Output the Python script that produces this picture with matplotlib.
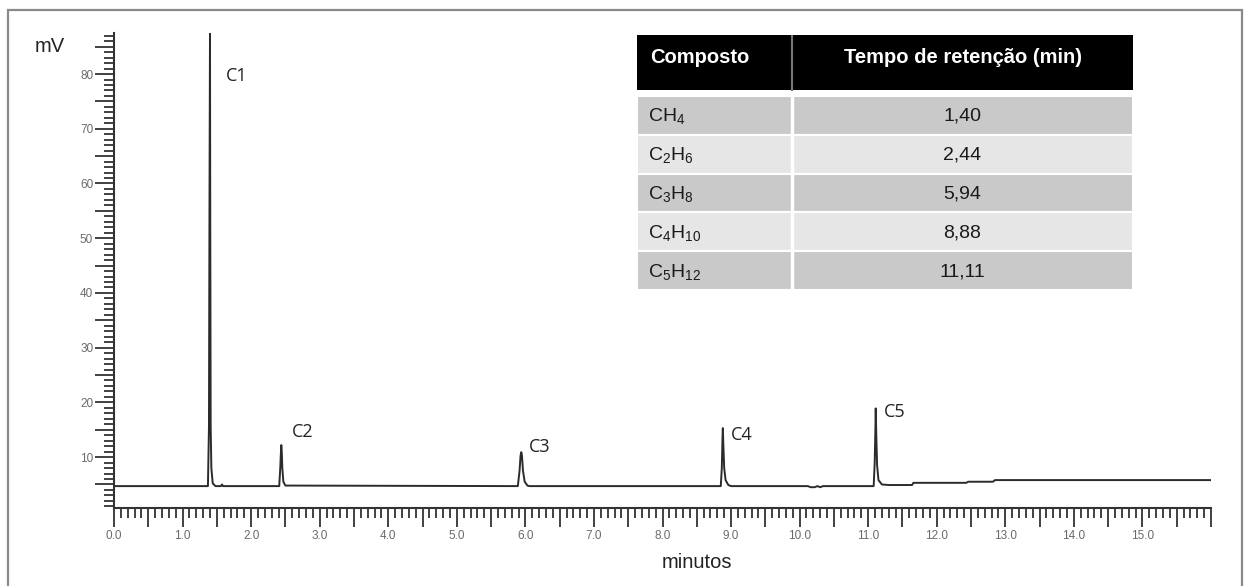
import matplotlib
matplotlib.use("Agg")
import matplotlib.pyplot as plt
from matplotlib.patches import Rectangle
from matplotlib.ticker import MultipleLocator, FuncFormatter

plt.rcParams['font.family'] = ['Liberation Sans', 'DejaVu Sans']
plt.rcParams['mathtext.fontset'] = 'custom'
plt.rcParams['mathtext.rm'] = 'Liberation Sans'
plt.rcParams['mathtext.default'] = 'regular'

# chromatogram trace (time in min, signal in mV)
trace_t = [0.0, 1.37, 1.385, 1.392, 1.40, 1.404, 1.41, 1.42, 1.44, 1.48,
           1.56, 1.575, 1.59,
           2.41, 2.425, 2.435, 2.44, 2.447, 2.455, 2.47, 2.50,
           5.89, 5.915, 5.93, 5.94, 5.95, 5.965, 5.99, 6.03, 6.06,
           8.85, 8.865, 8.875, 8.88, 8.888, 8.90, 8.92, 8.96, 9.00,
           10.12, 10.16, 10.22, 10.26, 10.30, 10.34,
           11.08, 11.095, 11.105, 11.11, 11.118, 11.13, 11.15, 11.20, 11.30,
           11.64, 11.66, 12.43, 12.46, 12.82, 12.85, 16.0]
trace_mv = [4.7, 4.7, 15.5, 53.0, 87.5, 53.0, 15.5, 8.0, 5.2, 4.7,
            4.7, 5.0, 4.7,
            4.7, 8.0, 11.0, 12.2, 11.0, 8.0, 5.5, 4.8,
            4.7, 7.5, 10.3, 10.9, 10.3, 7.5, 5.5, 4.8, 4.7,
            4.7, 8.0, 13.5, 15.3, 12.0, 8.0, 5.8, 4.9, 4.7,
            4.7, 4.5, 4.5, 4.7, 4.5, 4.7,
            4.7, 9.0, 15.0, 18.9, 14.0, 8.5, 5.8, 5.0, 4.9,
            4.9, 5.3, 5.3, 5.5, 5.5, 5.8, 5.8]

peak_names = ['C1', 'C2', 'C3', 'C4', 'C5']
peak_mv = [87.5, 12.2, 10.9, 15.3, 18.9]

# retention time table
compostos = ['CH$_4$', 'C$_2$H$_6$', 'C$_3$H$_8$', 'C$_4$H$_{10}$', 'C$_5$H$_{12}$']
tempos = [1.40, 2.44, 5.94, 8.88, 11.11]

W, H = 1248, 586
fig = plt.figure(figsize=(W / 100, H / 100), dpi=100)

# grey frame around the whole figure
fig.patches.append(Rectangle((8 / W, -0.05), (1242 - 8) / W, 1.05 - 10 / H,
                             transform=fig.transFigure, fill=False,
                             edgecolor='#8a8a8a', linewidth=1.6))

ax = fig.add_axes([114 / W, 1 - 508 / H, (1211 - 114) / W, (508 - 33) / H])
ax.plot(trace_t, trace_mv, color='#2b2b2b', linewidth=1.4)

label_offsets = [(16, -43), (11, 13), (8, 5), (8, -7), (8, -4)]
for name, t, h, off in zip(peak_names, tempos, peak_mv, label_offsets):
    ax.annotate(name, xy=(t, h), xytext=off, textcoords='offset pixels',
                ha='left', va='center', fontsize=13, color='#222222',
                family=['Open Sans', 'DejaVu Sans'])

ax.set_xlim(0, 16)
ax.set_ylim(0.7, 87.5)
for s in ['top', 'right']:
    ax.spines[s].set_visible(False)
for s in ['left', 'bottom']:
    ax.spines[s].set_color('#333333')
    ax.spines[s].set_linewidth(1.5)

ax.xaxis.set_major_locator(MultipleLocator(0.5))
ax.xaxis.set_minor_locator(MultipleLocator(0.1))
ax.xaxis.set_major_formatter(FuncFormatter(
    lambda v, p: f'{v:.1f}' if abs(v - round(v)) < 1e-6 and v < 15.5 else ''))
ax.yaxis.set_major_locator(MultipleLocator(5))
ax.yaxis.set_minor_locator(MultipleLocator(1))
ax.yaxis.set_major_formatter(FuncFormatter(
    lambda v, p: f'{v:.0f}' if v % 10 == 0 and v > 0 else ''))

ax.tick_params(which='major', length=14, width=1.3, color='#333333',
               labelsize=8.5, labelcolor='#6a6a6a')
ax.tick_params(which='minor', length=7, width=1.3, color='#333333')
ax.tick_params(axis='y', which='major', pad=1)
ax.tick_params(axis='x', which='major', pad=2)

fig.text(50 / W, 1 - 47 / H, 'mV', fontsize=14.5, ha='center', va='center',
         color='#222222')
fig.text(697 / W, 1 - 563 / H, 'minutos', fontsize=14.5, ha='center',
         va='center', color='#222222')

# table of compounds and retention times
tab = fig.add_axes([637 / W, 1 - 290 / H, (1133 - 637) / W, (290 - 35) / H])
tab.set_xlim(637, 1133)
tab.set_ylim(290, 35)
tab.axis('off')
col_split = 792
tab.add_patch(Rectangle((637, 35), 1133 - 637, 55, facecolor='black',
                        edgecolor='none'))
tab.plot([col_split, col_split], [35, 90], color='#777777', linewidth=1.5)
tab.text(650, 57, 'Composto', color='white', fontsize=14.5, fontweight='bold',
         ha='left', va='center')
tab.text((col_split + 1133) / 2, 57, 'Tempo de retenção (min)', color='white',
         fontsize=14.5, fontweight='bold', ha='center', va='center')

row_top = 96
row_h = (290 - 96) / len(compostos)
for i, (c, t) in enumerate(zip(compostos, tempos)):
    y0 = row_top + i * row_h
    shade = '#c9c9c9' if i % 2 == 0 else '#e6e6e6'
    tab.add_patch(Rectangle((637, y0), 1133 - 637, row_h, facecolor=shade,
                            edgecolor='white', linewidth=1.5))
    yc = y0 + row_h / 2 + 1
    tab.text(648, yc, c, fontsize=14, ha='left', va='center', color='#1a1a1a')
    tab.text((col_split + 1133) / 2, yc, f'{t:.2f}'.replace('.', ','),
             fontsize=14, ha='center', va='center', color='#1a1a1a')
tab.plot([col_split, col_split], [96, 290], color='white', linewidth=2.5)

fig.savefig('out.png', dpi=100)
